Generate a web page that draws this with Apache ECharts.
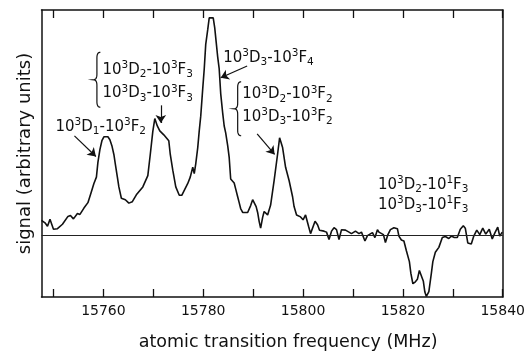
<!DOCTYPE html>
<html>
<head>
<meta charset="utf-8">
<script src="https://cdn.jsdelivr.net/npm/echarts@6/dist/echarts.min.js"></script>
<style>
html,body{margin:0;padding:0;background:#fff}
#chart{width:528px;height:356px}
</style>
</head>
<body>
<div id="chart"></div>
<script>
// frequency (MHz)
var freq = [
	15747.6,15748.3,15748.8,15749.3,15750.0,15750.8,15751.8,15752.9,15753.4,15754.0,
	15754.8,15755.3,15756.1,15756.9,15757.5,15758.1,15758.6,15758.9,15759.3,15759.7,
	15760.1,15760.5,15760.9,15761.3,15761.7,15762.1,15762.4,15762.8,15763.1,15763.6,
	15764.4,15765.1,15765.8,15766.6,15766.9,15767.9,15768.9,15769.4,15769.9,15770.3,
	15770.8,15771.3,15771.6,15772.1,15772.6,15773.1,15773.4,15773.9,15774.5,15775.2,
	15775.7,15776.2,15776.9,15777.4,15777.9,15778.2,15778.5,15778.9,15779.2,15779.5,
	15779.9,15780.2,15780.5,15780.9,15781.2,15781.6,15782.0,15782.3,15782.6,15782.9,
	15783.2,15783.5,15783.9,15784.2,15784.5,15784.9,15785.2,15785.5,15785.9,15786.2,
	15786.5,15786.9,15787.2,15787.5,15787.9,15788.9,15789.2,15789.5,15789.9,15790.2,
	15790.6,15790.9,15791.2,15791.5,15791.9,15792.2,15792.9,15793.5,15794.2,15794.9,
	15795.3,15795.9,15796.5,15797.2,15797.9,15798.2,15798.7,15799.5,15800.0,15800.5,
	15801.1,15801.5,15802.4,15802.9,15803.3,15804.2,15804.7,15805.2,15805.7,15806.2,
	15806.7,15807.2,15807.7,15808.5,15809.2,15809.7,15810.5,15811.2,15811.7,15812.4,
	15812.9,15813.3,15813.9,15814.4,15814.9,15815.2,15816.1,15816.5,15817.0,15817.5,
	15818.2,15818.5,15818.9,15819.2,15819.7,15820.2,15820.7,15821.3,15821.6,15822.0,
	15822.5,15822.9,15823.3,15823.7,15824.1,15824.4,15824.7,15825.2,15825.7,15826.0,
	15826.5,15827.2,15827.9,15828.5,15829.2,15829.7,15830.3,15830.9,15831.5,15832.1,
	15832.5,15833.0,15833.7,15834.2,15834.8,15835.4,15836.0,15836.6,15837.3,15837.9,
	15838.4,15839.0,15839.4,15839.9
];
// signal (arbitrary units), zero = horizontal baseline
var signal = [
	1.55,1.3,0.95,1.65,0.65,0.7,1.15,1.95,2.05,1.7,
	2.25,2.15,2.8,3.35,4.3,5.3,5.95,7.45,8.75,9.65,
	10.05,10.15,10.05,9.75,9.15,8.25,7.25,5.95,4.95,3.8,
	3.65,3.3,3.45,4.15,4.3,4.95,6.1,8.3,10.6,11.9,
	11.15,10.65,10.85,10.25,9.95,9.65,8.25,6.65,4.95,4.1,
	4.1,4.6,5.3,5.95,6.95,6.3,7.3,8.95,10.65,12.15,
	14.95,16.95,19.45,20.95,22.15,22.3,22.15,21.15,19.65,18.15,
	16.95,14.45,12.45,11.15,10.45,9.15,7.95,5.75,5.65,5.35,
	4.75,3.95,3.35,2.75,2.35,2.35,2.55,3.05,3.65,3.85,
	2.95,2.35,1.45,0.75,1.85,2.45,2.1,3.1,5.6,8.3,
	9.95,8.95,6.95,5.6,3.95,2.95,2.1,1.9,1.6,2.1,
	0.95,0.2,1.45,1.1,0.55,0.45,0.35,-0.4,0.45,0.8,
	0.6,-0.4,0.6,0.55,0.35,0.2,0.45,0.2,0.35,-0.55,
	0.0,-0.2,0.3,-0.2,0.6,0.35,0.1,-0.7,0.1,0.6,
	0.8,1.0,0.7,-0.05,-0.45,-0.55,-1.55,-2.65,-3.85,-4.9,
	-4.7,-4.45,-3.55,-3.75,-4.65,-5.75,-6.2,-5.7,-3.85,-2.65,
	-1.7,-1.2,-0.2,-0.1,-0.3,-0.05,-0.2,-0.2,0.65,1.0,
	0.75,-0.75,-0.85,-0.05,0.55,0.1,0.75,0.15,0.65,-0.35,
	0.25,0.85,-0.05,0.35
];
var tickValues = [15750,15760,15770,15780,15790,15800,15810,15820,15830,15840];
var labelValues = [15760,15780,15800,15820,15840];

var xMin = 15747.6, xMax = 15840;
var yMin = -6.25, yMax = 22.95;
var ink = '#111';
var font = 'DejaVu Sans';

var chart = echarts.init(document.getElementById('chart'));

function xAxisDef(pos, labels) {
	return {
		type: 'value', position: pos, min: xMin, max: xMax,
		axisLine: {show: true, onZero: false, lineStyle: {color: ink, width: 1.5}},
		axisTick: {show: true, inside: true, length: 8, customValues: tickValues, lineStyle: {color: ink, width: 1.3}},
		axisLabel: {
			show: labels, customValues: labelValues, margin: 7, color: ink,
			fontSize: 14, fontFamily: font,
			formatter: function (v) { return String(v); }
		},
		splitLine: {show: false},
		name: labels ? 'atomic transition frequency (MHz)' : '',
		nameLocation: 'middle', nameGap: 36,
		nameTextStyle: {color: ink, fontSize: 17.5, fontFamily: font, padding: [0, 0, 0, 32]}
	};
}
function yAxisDef(pos, title) {
	return {
		type: 'value', position: pos, min: yMin, max: yMax,
		axisLine: {show: true, onZero: false, lineStyle: {color: ink, width: 1.5}},
		axisTick: {show: false}, axisLabel: {show: false}, splitLine: {show: false},
		name: title, nameLocation: 'middle', nameGap: 7,
		nameTextStyle: {color: ink, fontSize: 18, fontFamily: font}
	};
}

var pts = freq.map(function (f, i) { return [f, signal[i]]; });

// arrows, in data coordinates: [from, to]
var arrows = [
	[[15754.2, 10.15], [15758.5, 8.05]],
	[[15771.5, 13.25], [15771.5, 11.45]],
	[[15788.8, 17.25], [15783.5, 16.05]],
	[[15790.8, 10.35], [15794.3, 8.25]]
];

var option = {
	animation: false,
	backgroundColor: '#fff',
	grid: {left: 41.5, right: 24, top: 10, bottom: 54, containLabel: false},
	xAxis: [xAxisDef('bottom', true), xAxisDef('top', false)],
	yAxis: [yAxisDef('left', 'signal (arbitrary units)'), yAxisDef('right', '')],
	series: [{
		type: 'line',
		data: pts,
		showSymbol: false,
		lineStyle: {color: ink, width: 1.6},
		markLine: {
			silent: true, symbol: 'none', label: {show: false},
			lineStyle: {color: '#222', width: 1, type: 'solid'},
			data: [{yAxis: 0}]
		}
	}, {
		type: 'line',
		data: [],
		markLine: {
			silent: true, symbol: ['none', 'arrow'], symbolSize: 8,
			label: {show: false},
			lineStyle: {color: ink, width: 1.2, type: 'solid'},
			data: arrows.map(function (a) { return [{coord: a[0]}, {coord: a[1]}]; })
		}
	}]
};
chart.setOption(option);

// annotation texts (rich text for super/subscripts)
var rich = {
	n: {fontSize: 15, lineHeight: 20, fontFamily: font, fill: ink},
	sup: {fontSize: 10.5, lineHeight: 11, verticalAlign: 'top', fontFamily: font, fill: ink},
	sub: {fontSize: 10.5, lineHeight: 11, verticalAlign: 'bottom', fontFamily: font, fill: ink}
};
function term(dj, fs, fj) {
	return '{n|10}{sup|3}{n|D}{sub|' + dj + '}{n|-10}{sup|' + fs + '}{n|F}{sub|' + fj + '}';
}
var notes = [
	{at: [15750.4, 11.05], text: term(1, 3, 2)},
	{at: [15759.8, 16.85], text: term(2, 3, 3)},
	{at: [15759.8, 14.45], text: term(3, 3, 3)},
	{at: [15784.0, 18.05], text: term(3, 3, 4)},
	{at: [15787.8, 14.35], text: term(2, 3, 2)},
	{at: [15787.8, 12.05], text: term(3, 3, 2)},
	{at: [15815.0, 5.15], text: term(2, 1, 3)},
	{at: [15815.0, 3.15], text: term(3, 1, 3)}
];
// braces: top-left corner in data coords, width and height in px
var braces = [
	{at: [15758.0, 18.65], w: 7, h: 55},
	{at: [15786.2, 15.65], w: 7, h: 54}
];

// left curly brace as a polyline (quadratic corners sampled)
function bracePoints(x0, y0, w, h) {
	var m = w / 2, pts = [];
	function quad(a, c, b) {
		for (var t = 0; t <= 1.0001; t += 0.125) {
			var u = 1 - t;
			pts.push([x0 + u * u * a[0] + 2 * u * t * c[0] + t * t * b[0],
				y0 + u * u * a[1] + 2 * u * t * c[1] + t * t * b[1]]);
		}
	}
	quad([w, 0], [m, 0], [m, h * 0.1]);
	quad([m, h * 0.4], [m, h * 0.5], [0, h * 0.5]);
	quad([0, h * 0.5], [m, h * 0.5], [m, h * 0.6]);
	quad([m, h * 0.9], [m, h], [w, h]);
	return pts;
}

var graphic = [];
notes.forEach(function (n) {
	var p = chart.convertToPixel({gridIndex: 0}, n.at);
	graphic.push({
		type: 'text', x: p[0], y: p[1], silent: true,
		style: {text: n.text, rich: rich, align: 'left', verticalAlign: 'middle', fill: ink}
	});
});
braces.forEach(function (b) {
	var p = chart.convertToPixel({gridIndex: 0}, b.at);
	graphic.push({
		type: 'polyline', silent: true,
		shape: {points: bracePoints(p[0], p[1], b.w, b.h)},
		style: {fill: null, stroke: ink, lineWidth: 1.2}
	});
});
chart.setOption({graphic: graphic});
</script>
</body>
</html>
